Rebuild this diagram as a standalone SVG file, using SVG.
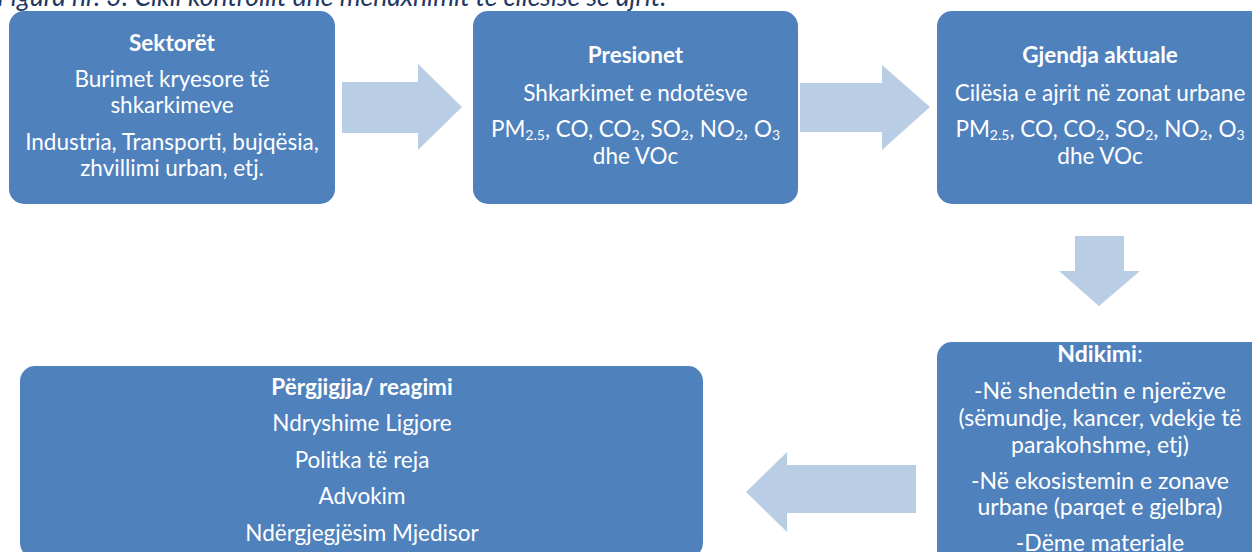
<svg xmlns="http://www.w3.org/2000/svg" width="1252" height="552" viewBox="0 0 1252 552">
<style>
.box{fill:#4F81BD;}
.arr{fill:#B9CDE5;}
text{font-family:Lato,"Liberation Sans",sans-serif;fill:#FFFFFF;text-anchor:middle;font-size:22.5px;}
.t{font-weight:bold;}
.cap{fill:#1F3864;font-style:italic;text-anchor:start;font-size:26.5px;}
.s{font-size:14px;}
.b4{font-size:23px;}
</style>
<text class="cap" x="-3" y="6">Figura nr. 3: Cikli kontrollit dhe menaxhimit të cilësisë së ajrit.</text>
<g id="connectors">
<polygon class="arr" points="342,82 418,82 418,64 462,107 418,150 418,133 342,133"/>
<polygon class="arr" points="800,83 882,83 882,65 930,107 882,150 882,132 800,132"/>
<polygon class="arr" points="1075,236 1124,236 1124,271 1140,271 1099,306 1059,271 1075,271"/>
<polygon class="arr" points="916,465 787,465 787,452 746,492 787,532 787,513 916,513"/>
</g>
<g id="sektoret">
<rect class="box" x="9" y="11" width="326" height="193" rx="15"/>
<text class="t" x="172" y="51">Sektorët</text>
<text x="172" y="87">Burimet kryesore të</text>
<text x="172" y="113">shkarkimeve</text>
<text x="172" y="150">Industria, Transporti, bujqësia,</text>
<text x="172" y="176">zhvillimi urban, etj.</text>
</g>
<g id="presionet">
<rect class="box" x="473" y="11" width="325" height="193" rx="15"/>
<text class="t" x="635.5" y="63">Presionet</text>
<text x="635.5" y="101">Shkarkimet e ndotësve</text>
<text x="635.5" y="137">PM<tspan class="s" dy="3">2.5</tspan><tspan dy="-3">, CO, CO</tspan><tspan class="s" dy="3">2</tspan><tspan dy="-3">, SO</tspan><tspan class="s" dy="3">2</tspan><tspan dy="-3">, NO</tspan><tspan class="s" dy="3">2</tspan><tspan dy="-3">, O</tspan><tspan class="s" dy="3">3</tspan></text>
<text x="635.5" y="164">dhe VOc</text>
</g>
<g id="gjendja">
<rect class="box" x="937" y="11" width="330" height="193" rx="15"/>
<text class="t" x="1100" y="63">Gjendja aktuale</text>
<text x="1100" y="101">Cilësia e ajrit në zonat urbane</text>
<text x="1100" y="137">PM<tspan class="s" dy="3">2.5</tspan><tspan dy="-3">, CO, CO</tspan><tspan class="s" dy="3">2</tspan><tspan dy="-3">, SO</tspan><tspan class="s" dy="3">2</tspan><tspan dy="-3">, NO</tspan><tspan class="s" dy="3">2</tspan><tspan dy="-3">, O</tspan><tspan class="s" dy="3">3</tspan></text>
<text x="1100" y="164">dhe VOc</text>
</g>
<g id="ndikimi">
<rect class="box" x="937" y="342" width="330" height="230" rx="15"/>
<text class="b4" x="1100" y="362"><tspan class="t">Ndikimi</tspan>:</text>
<text class="b4" x="1100" y="399">-Në shendetin e njerëzve</text>
<text class="b4" x="1100" y="426">(sëmundje, kancer, vdekje të</text>
<text class="b4" x="1100" y="453">parakohshme, etj)</text>
<text class="b4" x="1100" y="489">-Në ekosistemin e zonave</text>
<text class="b4" x="1100" y="515">urbane (parqet e gjelbra)</text>
<text class="b4" x="1100" y="551">-Dëme materiale</text>
</g>
<g id="pergjigjja">
<rect class="box" x="20" y="366" width="683" height="192" rx="15"/>
<text class="t" x="362" y="395">Përgjigjja/ reagimi</text>
<text x="362" y="431">Ndryshime Ligjore</text>
<text x="362" y="468">Politka të reja</text>
<text x="362" y="504">Advokim</text>
<text x="362" y="541">Ndërgjegjësim Mjedisor</text>
</g>
</svg>
